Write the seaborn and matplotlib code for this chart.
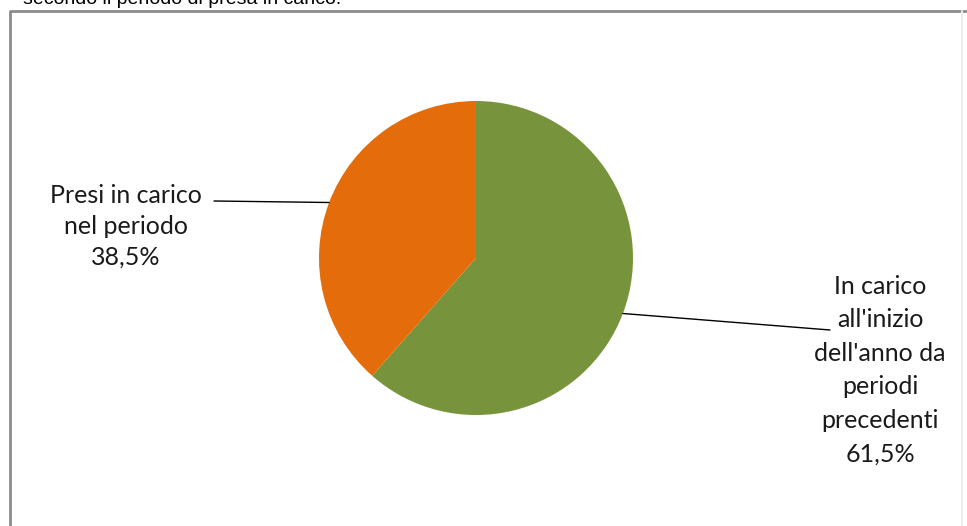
import numpy as np
import matplotlib
matplotlib.use("Agg")
import matplotlib.pyplot as plt
import seaborn as sns

# Data
categories = ["In carico\nall'inizio\ndell'anno da\nperiodi\nprecedenti", "Presi in carico\nnel periodo"]
values = [61.5, 38.5]
colors = ["#77933C", "#E46C0A"]
title = "secondo il periodo di presa in carico."

sns.set_theme(style="white")
plt.rcParams['font.family'] = ['Lato', 'DejaVu Sans']

W, H = 967, 526
fig = plt.figure(figsize=(W / 100, H / 100), dpi=100)
fig.patch.set_facecolor("white")
ax = fig.add_axes([0, 0, 1, 1])

cx, cy, r = 476, H - 258, 157
wedges, _ = ax.pie(values, colors=colors, startangle=90, counterclock=False,
                   center=(cx, cy), radius=r, frame=True,
                   wedgeprops=dict(linewidth=0))
ax.set_xlim(0, W)
ax.set_ylim(0, H)
ax.set_aspect("equal")
ax.axis("off")

# frame (chart area border, partially cropped)
ax.plot([10, 10, W], [0, H - 11, H - 11], color="#8c8c8c", lw=2, solid_capstyle="butt")
ax.plot([962, 962], [0, H - 11], color="#ebebeb", lw=1.5)

# title (cropped at the top, as in the source)
ax.text(23, H - 4, title, fontsize=14, family=["Liberation Sans"], ha="left",
        va="baseline", color="black")

# labels with leader lines
label_pos = [(880, H - 370), (126, H - 226)]
line_end = [(830, H - 330), (214, H - 201)]
spacing = [1.55, 1.42]
for w, cat, v, (tx, ty), (lx, ly), ls in zip(wedges, categories, values, label_pos, line_end, spacing):
    ang = np.deg2rad((w.theta1 + w.theta2) / 2)
    px, py = cx + r * np.cos(ang), cy + r * np.sin(ang)
    ax.plot([px, lx], [py, ly], color="black", lw=1)
    txt = cat + "\n" + f"{v:.1f}".replace(".", ",") + "%"
    ax.text(tx, ty, txt, ha="center", va="center", fontsize=18, linespacing=ls,
            color="#1a1a1a")

fig.savefig("out.png", dpi=100, facecolor="white")
